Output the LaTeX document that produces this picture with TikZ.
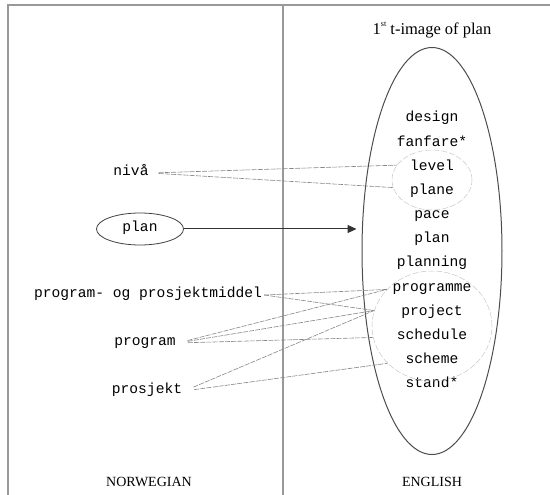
\documentclass[tikz,border=0pt]{standalone}
\usepackage{fontspec}
\setmainfont{Liberation Serif}
\setmonofont{Liberation Mono}
\usetikzlibrary{shapes.geometric,arrows.meta}
\tikzset{
  word/.style={font=\fontsize{14.6}{16}\ttfamily, inner sep=2pt,
    text height=1.5ex, text depth=.25ex},
  label/.style={font=\fontsize{14}{16}\selectfont},
  frame/.style={draw=gray!80, line width=1.2pt},
  link/.style={draw=gray!95, line width=0.6pt, dash pattern=on 5pt off 1.2pt},
  zone/.style={ellipse, draw=gray!45, line width=0.5pt, dash pattern=on 6pt off 2pt}
}
\begin{document}
\begin{tikzpicture}[x=1pt,y=-1pt]
      \useasboundingbox (0,0) rectangle (550,495);
      % frame
      \draw[frame] (8,495) -- (8,5) -- (550,5);
      \draw[frame] (283,5) -- (283,495);
      % titles
      \node[font=\fontsize{16.5}{18}\selectfont] (title) at (432,30)
        {1\raisebox{1.1ex}{\fontsize{8}{9}\selectfont st} t-image of plan};
      \node[label] (nor) at (149,482) {NORWEGIAN};
      \node[label] (eng) at (432,482) {ENGLISH};
      % English side
      \node[ellipse, draw=black!70, line width=1pt, minimum width=140pt,
        minimum height=407pt] (image) at (432,251) {};
      \foreach \w [count=\i] in {design,fanfare*,level,plane,pace,plan,planning,
          programme,project,schedule,scheme,stand*}
        \node[word] (e\i) at (432,{119+(\i-1)*24.18}) {\w};
      \node[zone, minimum width=80pt, minimum height=60pt] (z1) at (432,180) {};
      \node[zone, minimum width=120pt, minimum height=110pt] (z2) at (432,326) {};
      % Norwegian side
      \node[word] (niva) at (131,173) {nivå};
      \node[word, ellipse, draw=black!75, line width=0.8pt, minimum width=87pt,
        minimum height=32pt] (plan) at (140,229) {plan};
      \node[word] (middel) at (148,295) {program- og prosjektmiddel};
      \node[word] (program) at (145,343) {program};
      \node[word] (prosjekt) at (147,391) {prosjekt};
      % connectors
      \draw[-{Triangle[length=9pt,width=8pt]}, line width=1pt, black!80,
        shorten >=5pt] (plan.east) -- (plan -| image.west);
      \begin{scope}[link]
        \draw[shorten <=8pt] (niva.east) -- (z1.157);
        \draw[shorten <=8pt] (niva.east) -- (z1.191);
        \draw (middel.east) -- (z2.141);
        \draw (middel.east) -- (z2.165);
        \draw[shorten <=10pt] (program.east) -- (z2.141);
        \draw[shorten <=10pt] (program.east) -- (z2.165);
        \draw[shorten <=10pt] (program.east) -- (z2.191);
        \draw[shorten <=10pt] (prosjekt.east) -- (z2.165);
        \draw[shorten <=10pt] (prosjekt.east) -- (z2.220);
      \end{scope}
    \end{tikzpicture}
\end{document}
